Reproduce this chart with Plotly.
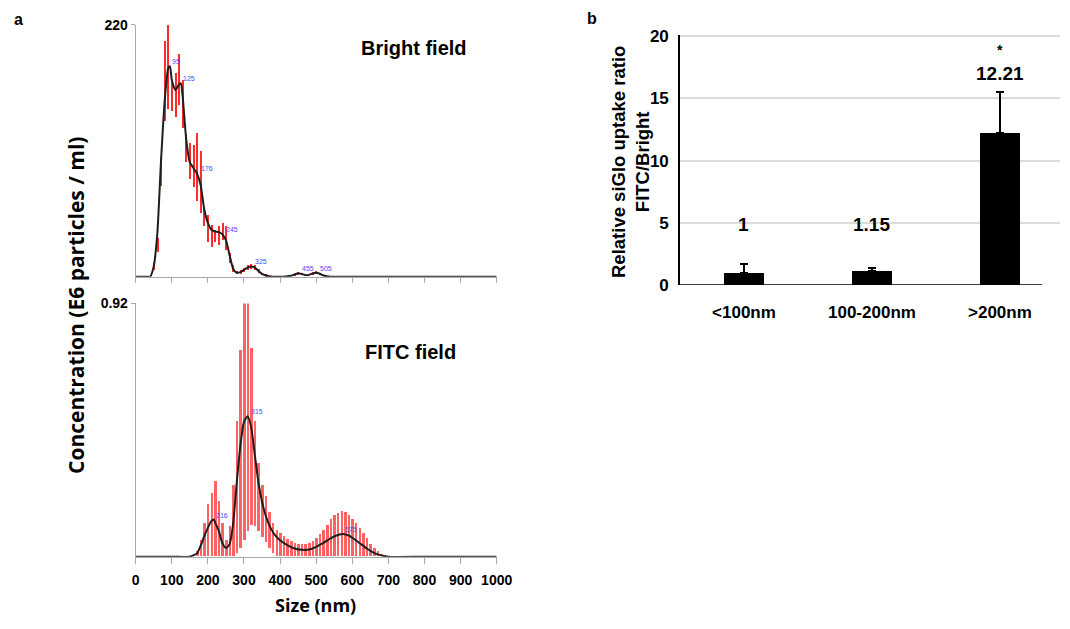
import plotly.graph_objects as go

# ---------------- data: Bright field (panel a, top) ----------------
bf_size = [0, 10, 20, 30, 40, 50, 60, 70, 80, 90, 95, 100, 110, 120, 125, 130, 140, 150, 160, 170,
           180, 190, 200, 210, 220, 230, 240, 250, 260, 270, 280, 290, 300, 310, 320, 330,
           340, 350, 360, 370, 380, 400, 410, 420, 430, 440, 450, 460, 470, 480, 490, 500,
           510, 520, 530, 540, 600, 700, 800, 900, 1000]
bf_conc = [0, 0, 0, 0, 0, 9, 38, 100, 152, 182, 184, 172, 163, 168, 169, 158, 120, 100, 95, 90,
           80, 59, 47, 41, 39.5, 39, 37, 32, 19, 7, 3.5, 4, 6, 8, 9, 8,
           5, 2.5, 1.2, 0.4, 0, 0, 0, 0.3, 0.8, 1.8, 3, 2.4, 1.4, 1.6, 2.8, 3.4,
           2.6, 1, 0.3, 0, 0, 0, 0, 0, 0]
bf_bins = [50, 60, 70, 80, 90, 100, 110, 120, 130, 140, 150, 160, 170, 180, 190, 200, 210, 220,
           230, 240, 250, 260, 270, 280, 290, 300, 310, 320, 330, 340, 350, 360, 440, 450, 460,
           490, 500, 510]
bf_low = [6, 22, 79, 136, 147, 145, 140, 150, 130, 100, 85, 78, 66, 56, 44, 30, 26, 30,
          28, 32, 23, 12, 4, 2, 2, 4, 6, 7, 6, 3.5, 1.5, 0.5, 1, 1.5, 1.5,
          1.5, 2, 1.5]
bf_high = [12, 34, 105, 206, 222, 170, 178, 195, 172, 125, 117, 115, 126, 110, 60, 54, 45, 41,
           44, 47, 44, 21, 10, 5, 6, 8, 10, 11, 10, 6.5, 3.5, 2, 3, 4.5, 3.5,
           4, 5, 3.5]
bf_peaks = [95, 125, 176, 245, 325, 455, 505]
bf_peak_vals = [184, 169, 91, 37, 9, 3, 3.4]

# ---------------- data: FITC field (panel a, bottom) ----------------
fi_size = [0, 100, 150, 160, 170, 180, 190, 200, 210, 216, 220, 230, 240, 250, 260, 270, 280, 290,
           300, 310, 320, 330, 340, 350, 360, 370, 380, 390, 400, 420, 440, 460, 480, 500,
           520, 540, 560, 575, 590, 600, 620, 640, 660, 680, 700, 800, 900, 1000]
fi_conc = [0, 0, 0, 0.005, 0.012, 0.04, 0.075, 0.105, 0.13, 0.135, 0.125, 0.095, 0.05, 0.032,
           0.045, 0.12, 0.27, 0.405, 0.49, 0.51, 0.47, 0.37, 0.27, 0.2, 0.15, 0.115, 0.09, 0.072,
           0.06, 0.042, 0.03, 0.025, 0.026, 0.036, 0.05, 0.067, 0.079, 0.083, 0.077, 0.069,
           0.05, 0.03, 0.014, 0.005, 0, 0, 0, 0]
fi_bins = [170, 180, 190, 200, 210, 220, 230, 240, 250, 260, 270, 280, 290, 300, 310, 320, 330,
           340, 350, 360, 370, 380, 390, 400, 410, 420, 430, 440, 450, 460, 470, 480, 490, 500,
           510, 520, 530, 540, 550, 560, 570, 580, 590, 600, 610, 620, 630, 640, 650, 660, 670,
           680, 690]
fi_high = [0.02, 0.06, 0.12, 0.19, 0.23, 0.274, 0.2, 0.12, 0.06, 0.11, 0.26, 0.49, 0.75, 0.92,
           0.92, 0.755, 0.49, 0.34, 0.26, 0.22, 0.16, 0.12, 0.097, 0.085, 0.073, 0.062, 0.055,
           0.048, 0.045, 0.043, 0.044, 0.048, 0.056, 0.067, 0.08, 0.097, 0.115, 0.134, 0.15,
           0.158, 0.164, 0.162, 0.15, 0.135, 0.122, 0.104, 0.085, 0.065, 0.046, 0.03, 0.018,
           0.008, 0.003]
fi_low = [0, 0, 0, 0, 0, 0, 0, 0, 0, 0, 0, 0.01, 0.03, 0.06, 0.09, 0.115, 0.11, 0.09, 0.07,
          0.05, 0.03, 0.012, 0, 0, 0, 0, 0, 0, 0, 0, 0, 0, 0, 0, 0, 0, 0, 0, 0, 0, 0, 0, 0, 0,
          0, 0, 0, 0, 0, 0, 0, 0, 0]
fi_peaks = [216, 315, 575]
fi_peak_vals = [0.135, 0.51, 0.083]

# ---------------- data: panel b ----------------
categories = ["<100nm", "100-200nm", ">200nm"]
ratio = [1, 1.15, 12.21]
ratio_err = [0.7, 0.25, 3.3]
ratio_labels = ["1", "1.15", "12.21"]
label_y = [4.9, 4.9, 17.0]
signif = ["", "", "*"]
signif_y = [18.9, 18.9, 18.9]
size_ticks = [0, 100, 200, 300, 400, 500, 600, 700, 800, 900, 1000]

FONT = "Liberation Sans, Arial, sans-serif"
FONT2 = "Open Sans, Liberation Sans, sans-serif"
GRAY = "#a8a8a8"
BLUE = "#4a4aff"
W, H = 1070, 629


def px(x, y):
    return x / W, 1 - y / H


fig = go.Figure()

# Bright field
fig.add_trace(go.Bar(x=bf_bins, y=[h - l for h, l in zip(bf_high, bf_low)], base=bf_low,
                     width=3.5, marker=dict(color="#ff2a2a", line=dict(width=0)),
                     xaxis="x", yaxis="y"))
fig.add_trace(go.Scatter(x=bf_size, y=bf_conc, mode="lines",
                         line=dict(color="#1e1e1e", width=2, shape="spline", smoothing=0.6),
                         xaxis="x", yaxis="y"))
# FITC field
fig.add_trace(go.Bar(x=fi_bins, y=[h - l for h, l in zip(fi_high, fi_low)], base=fi_low,
                     width=7, marker=dict(color="rgba(255,70,70,0.85)", line=dict(width=0)),
                     xaxis="x2", yaxis="y2"))
fig.add_trace(go.Scatter(x=fi_size, y=fi_conc, mode="lines",
                         line=dict(color="#1e1e1e", width=2, shape="spline", smoothing=0.6),
                         xaxis="x2", yaxis="y2"))
# Panel b bars
fig.add_trace(go.Bar(x=categories, y=ratio, width=0.3125,
                     marker=dict(color="black", line=dict(width=0)),
                     error_y=dict(type="data", symmetric=False, array=ratio_err,
                                  arrayminus=[0] * len(ratio_err), color="black",
                                  thickness=2, width=4),
                     xaxis="x3", yaxis="y3"))

ann = []
for p, v in zip(bf_peaks, bf_peak_vals):
    ann.append(dict(x=p, y=v, xref="x", yref="y", text=str(p), showarrow=False,
                    xanchor="left", yanchor="bottom", yshift=-1,
                    font=dict(family=FONT, size=7, color=BLUE)))
for p, v in zip(fi_peaks, fi_peak_vals):
    ann.append(dict(x=p, y=v, xref="x2", yref="y2", text=str(p), showarrow=False,
                    xanchor="left", yanchor="bottom", yshift=-1,
                    font=dict(family=FONT, size=7, color=BLUE)))
for c, t, y in zip(categories, ratio_labels, label_y):
    ann.append(dict(x=c, y=y, xref="x3", yref="y3", text="<b>" + t + "</b>", showarrow=False,
                    xanchor="center", yanchor="middle",
                    font=dict(family=FONT, size=19, color="black")))
for c, t, y in zip(categories, signif, signif_y):
    if t:
        ann.append(dict(x=c, y=y, xref="x3", yref="y3", text="<b>" + t + "</b>", showarrow=False,
                        xanchor="center", yanchor="middle",
                        font=dict(family=FONT, size=14, color="black")))


def pann(x, y, text, size, family=FONT, angle=0):
    ax, ay = px(x, y)
    return dict(x=ax, y=ay, xref="paper", yref="paper", text=text, showarrow=False,
                xanchor="center", yanchor="middle", textangle=angle,
                font=dict(family=family, size=size, color="black"))


ann += [
    pann(414, 48, "<b>Bright field</b>", 20),
    pann(410, 352, "<b>FITC field</b>", 20),
    pann(76, 306, "<b>Concentration (E6 particles / ml)</b>", 21, FONT2, -90),
    pann(315, 605, "<b>Size (nm)</b>", 18, FONT2),
    pann(18, 20, "<b>a</b>", 16),
    pann(592, 19, "<b>b</b>", 16),
    pann(630, 162, "<b>Relative siGlo uptake ratio<br>FITC/Bright</b>", 18.5, FONT, -90),
]

tickfont_left = dict(family=FONT, size=14, color="black", weight="bold")

fig.update_layout(
    template="none",
    width=W, height=H, margin=dict(l=0, r=0, t=0, b=0, pad=0, autoexpand=False),
    paper_bgcolor="white", plot_bgcolor="white", showlegend=False, bargap=0,
    annotations=ann,
    xaxis=dict(domain=[0.1268, 0.4642], range=[0, 1000], anchor="y", tickvals=size_ticks,
               showticklabels=False, ticks="outside", ticklen=5, tickcolor=GRAY, automargin=False,
               showline=True, linecolor=GRAY, linewidth=1, showgrid=False, zeroline=False),
    yaxis=dict(domain=[0.5601, 0.9603], range=[0, 220], anchor="x", tickvals=[220],
               ticktext=["220"], ticks="outside", ticklen=4, tickcolor=GRAY, automargin=False,
               showline=True, linecolor=GRAY, linewidth=1, showgrid=False, zeroline=False,
               tickfont=tickfont_left),
    xaxis2=dict(domain=[0.1268, 0.4642], range=[0, 1000], anchor="y2", tickvals=size_ticks,
                ticks="outside", ticklen=6, tickcolor=GRAY, tickfont=tickfont_left,
                ticklabelstandoff=4, automargin=False,
                showline=True, linecolor=GRAY, linewidth=1, showgrid=False, zeroline=False),
    yaxis2=dict(domain=[0.1149, 0.5175], range=[0, 0.92], anchor="x2", tickvals=[0.92],
                ticktext=["0.92"], ticks="outside", ticklen=4, tickcolor=GRAY, automargin=False,
                showline=True, linecolor=GRAY, linewidth=1, showgrid=False, zeroline=False,
                tickfont=tickfont_left),
    xaxis3=dict(domain=[0.6355, 0.9907], range=[-0.5, 2.47], anchor="y3", type="category",
                showline=False, ticks="", showgrid=False, zeroline=False, automargin=False,
                tickfont=dict(family=FONT, size=17, color="black", weight="bold"),
                ticklabelstandoff=15),
    yaxis3=dict(domain=[0.5469, 0.9444], range=[0, 20.1], anchor="x3", tickvals=[0, 5, 10, 15, 20],
                showline=True, linecolor="black", linewidth=1.5, ticks="", automargin=False,
                showgrid=True, gridcolor="#dcdcdc", gridwidth=1.5, zeroline=False,
                tickfont=dict(family=FONT, size=17, color="black", weight="bold"),
                ticklabelstandoff=6),
    shapes=[dict(type="line", xref="x3", yref="y3", x0=-0.5, x1=2.33, y0=0, y1=0,
                 line=dict(color="black", width=1.5))],
)

fig.write_html("out.html", config={"displayModeBar": False},
               post_script="document.body.style.margin='0px';")
